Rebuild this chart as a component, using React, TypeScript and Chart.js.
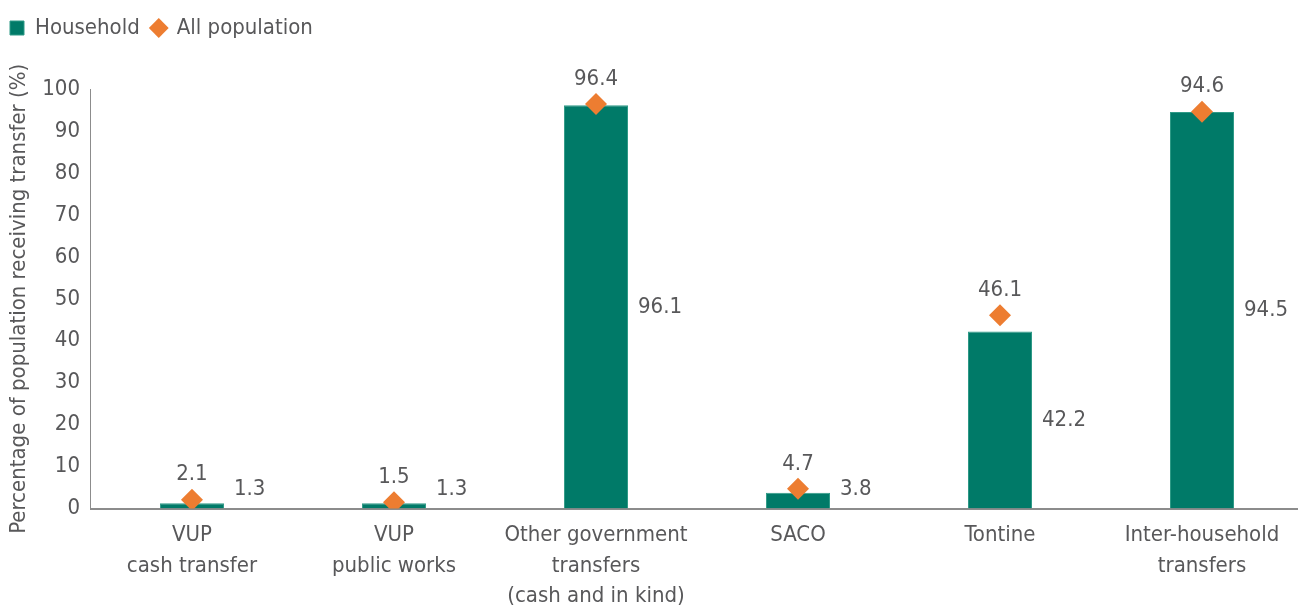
import React, { useEffect, useRef } from "react";
import { Chart, registerables } from "chart.js";

Chart.register(...registerables);

const categories: string[][] = [
  ["VUP", "cash transfer"],
  ["VUP", "public works"],
  ["Other government", "transfers", "(cash and in kind)"],
  ["SACO"],
  ["Tontine"],
  ["Inter-household", "transfers"],
];
const householdValues = [1.3, 1.3, 96.1, 3.8, 42.2, 94.5];
const allPopulationValues = [2.1, 1.5, 96.4, 4.7, 46.1, 94.6];
const yTicks = [0, 10, 20, 30, 40, 50, 60, 70, 80, 90, 100];

const FONT = "'DejaVu Sans Condensed', 'Liberation Sans Narrow', Roboto, sans-serif";
const TEXT = "#58585a";
const TEAL = "#007a68";
const ORANGE = "#ed7d31";
const AXIS = "#8c8c8c";

const labelPlugin = {
  id: "valueLabels",
  afterDatasetsDraw(chart: any) {
    const ctx = chart.ctx;
    ctx.save();
    ctx.font = `22px ${FONT}`;
    ctx.fillStyle = TEXT;
    const barMeta = chart.getDatasetMeta(0);
    const base = chart.scales.y.getPixelForValue(0);
    barMeta.data.forEach((el: any, i: number) => {
      const right = el.x + el.width / 2;
      const mid = Math.min((el.y + base) / 2, base - 19);
      ctx.textAlign = "left";
      ctx.textBaseline = "middle";
      ctx.fillText(householdValues[i].toFixed(1), right + 10, mid);
    });
    const ptMeta = chart.getDatasetMeta(1);
    ptMeta.data.forEach((el: any, i: number) => {
      ctx.textAlign = "center";
      ctx.textBaseline = "middle";
      ctx.fillText(allPopulationValues[i].toFixed(1), el.x, el.y - 25);
    });
    ctx.restore();
  },
};

const legendSpacer = {
  id: "legendSpacer",
  beforeInit(chart: any) {
    const legend = chart.legend;
    if (!legend) return;
    const origFit = legend.fit;
    legend.fit = function () {
      origFit.call(this);
      this.height = 84;
    };
  },
  afterLayout(chart: any) {
    if (chart.legend) chart.legend.left -= 9;
  },
};

export default function App() {
  const ref = useRef<HTMLCanvasElement>(null);
  useEffect(() => {
    if (!ref.current) return;
    const chart = new Chart(ref.current, {
      type: "bar",
      data: {
        labels: categories,
        datasets: [
          {
            type: "bar",
            label: "Household",
            data: householdValues,
            backgroundColor: TEAL,
            borderColor: "#2f9a87",
            borderWidth: 1,
            pointStyle: "rect",
            order: 1,
            categoryPercentage: 1,
            barPercentage: 0.317,
          } as any,
          {
            type: "line",
            label: "All population",
            data: allPopulationValues,
            showLine: false,
            pointStyle: "rectRot",
            pointRadius: 11,
            pointBackgroundColor: ORANGE,
            pointBorderColor: ORANGE,
            pointBorderWidth: 0,
            backgroundColor: ORANGE,
            borderColor: ORANGE,
            order: 0,
          } as any,
        ],
      },
      options: {
        animation: false,
        responsive: true,
        maintainAspectRatio: false,
        layout: { padding: { left: 7, right: 0, top: 5, bottom: 0 } },
        plugins: {
          tooltip: { enabled: false },
          legend: {
            position: "top",
            align: "start",
            labels: {
              usePointStyle: true,
              boxWidth: 14,
              boxHeight: 14,
              color: TEXT,
              font: { family: FONT, size: 22 },
              padding: 12,
              sort: (a: any, b: any) => a.datasetIndex - b.datasetIndex,
            },
          },
        },
        scales: {
          x: {
            grid: { display: false, drawTicks: false },
            border: { display: true, color: AXIS, width: 2 },
            ticks: {
              color: TEXT,
              font: { family: FONT, size: 22, lineHeight: 1.37 },
              maxRotation: 0,
              autoSkip: false,
              padding: 12,
            },
          },
          y: {
            min: 0,
            max: 100,
            afterBuildTicks: (axis: any) => {
              axis.ticks = yTicks.map((v) => ({ value: v }));
            },
            grid: { display: false, drawTicks: false },
            border: { display: true, color: AXIS, width: 1 },
            ticks: {
              color: TEXT,
              font: { family: FONT, size: 22 },
              padding: 11,
            },
            title: {
              display: true,
              text: "Percentage of population receiving transfer (%)",
              color: TEXT,
              font: { family: FONT, size: 22, lineHeight: 1.1 },
              padding: { top: 0, bottom: 0 },
            },
          },
        },
      },
      plugins: [labelPlugin, legendSpacer],
    });
    return () => chart.destroy();
  }, []);
  return (
    <div style={{ position: "fixed", left: 0, top: 0, width: 1314, height: 623, background: "#fff" }}>
      <canvas ref={ref} />
    </div>
  );
}
